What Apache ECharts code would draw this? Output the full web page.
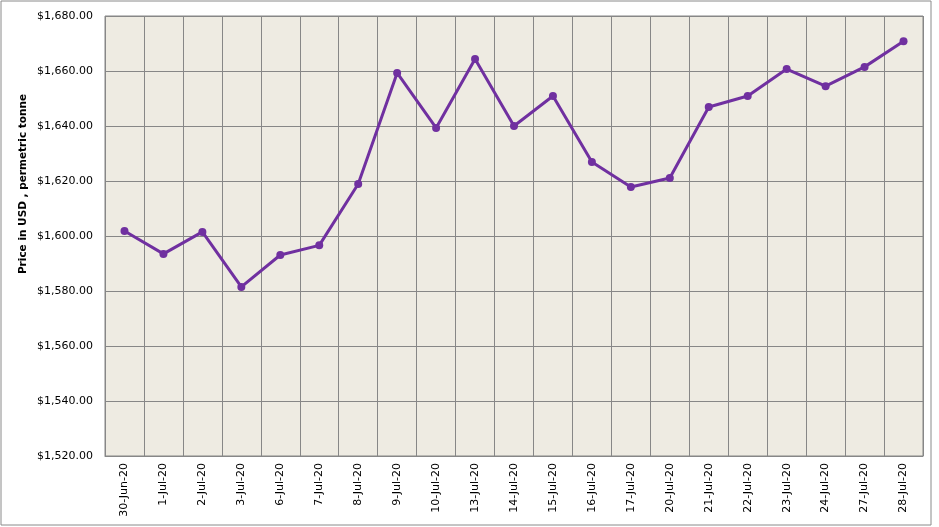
<!DOCTYPE html>
<html>
<head>
<meta charset="utf-8">
<script src="https://cdn.jsdelivr.net/npm/echarts@6/dist/echarts.min.js"></script>
<style>
  html, body { margin: 0; padding: 0; background: #fff; }
  #main { width: 939px; height: 527px; }
</style>
</head>
<body>
<div id="main"></div>
<script>
var dates = ['30-Jun-20', '1-Jul-20', '2-Jul-20', '3-Jul-20', '6-Jul-20', '7-Jul-20', '8-Jul-20',
  '9-Jul-20', '10-Jul-20', '13-Jul-20', '14-Jul-20', '15-Jul-20', '16-Jul-20', '17-Jul-20',
  '20-Jul-20', '21-Jul-20', '22-Jul-20', '23-Jul-20', '24-Jul-20', '27-Jul-20', '28-Jul-20']
var prices = [1601.8, 1593.5, 1601.5, 1581.5, 1593.1, 1596.6, 1618.9,
  1659.3, 1639.3, 1664.4, 1640.0, 1650.9, 1626.9, 1617.8,
  1621.1, 1646.9, 1650.9, 1660.7, 1654.5, 1661.5, 1670.8]

var chart = echarts.init(document.getElementById('main'))

var option = {
  animation: false,
  textStyle: { fontFamily: 'DejaVu Sans' },
  graphic: [{
    type: 'rect',
    shape: { x: 1, y: 1, width: 930, height: 524 },
    style: { fill: 'none', stroke: '#8a8a8a', lineWidth: 1 }
  }],
  grid: {
    left: 105, right: 16, top: 16, bottom: 71,
    show: true, backgroundColor: '#EEEBE2', borderColor: '#878787', borderWidth: 1
  },
  xAxis: {
    type: 'category',
    data: dates,
    boundaryGap: true,
    axisLine: { lineStyle: { color: '#878787' } },
    axisTick: { show: false },
    splitLine: { show: true, interval: 0, lineStyle: { color: '#878787', width: 1 } },
    axisLabel: { rotate: 90, interval: 0, color: '#000', fontSize: 11, margin: 7 }
  },
  yAxis: {
    type: 'value',
    min: 1520, max: 1680, interval: 20,
    name: 'Price in USD , permetric tonne',
    nameLocation: 'middle',
    nameGap: 76,
    nameMoveOverlap: false,
    // title sits above the plot's middle and a bit closer to the labels in the original
    nameTextStyle: { fontWeight: 'bold', fontSize: 10.5, color: '#000', padding: [12, 0, 0, 104] },
    axisLine: { show: false },
    axisTick: { show: false },
    splitLine: { lineStyle: { color: '#878787', width: 1 } },
    axisLabel: {
      color: '#000', fontSize: 11, margin: 12,
      formatter: function (v) {
        return '$' + v.toLocaleString('en-US', { minimumFractionDigits: 2, maximumFractionDigits: 2 })
      }
    }
  },
  series: [{
    type: 'line',
    data: prices,
    symbol: 'circle',
    symbolSize: 8,
    lineStyle: { color: '#7030A0', width: 3 },
    itemStyle: { color: '#7030A0' }
  }]
}
chart.setOption(option)
</script>
</body>
</html>
